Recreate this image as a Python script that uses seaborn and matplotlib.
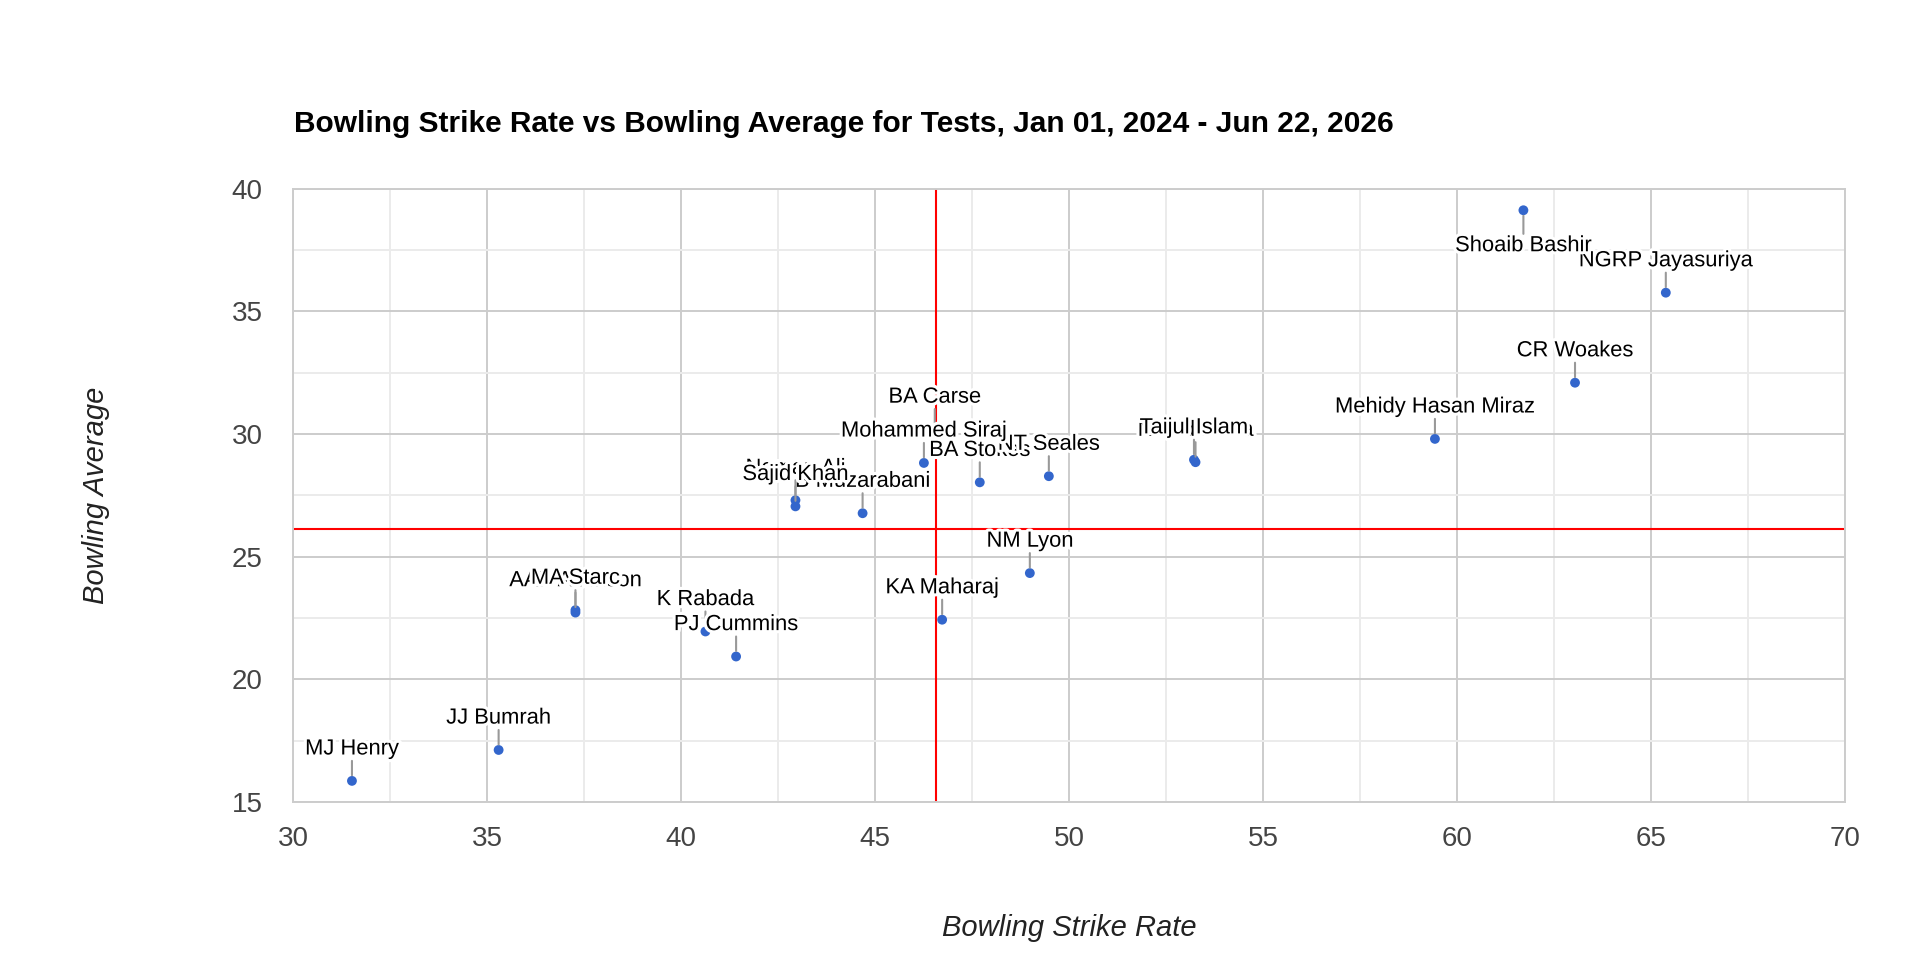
import numpy as np
import seaborn as sns
import matplotlib.pyplot as plt
import matplotlib.patheffects as pe

# bowlers in drawing order (later labels sit on top of earlier ones)
players = ["MJ Henry", "JJ Bumrah", "AAP Atkinson", "MA Starc", "K Rabada",
           "PJ Cummins", "B Muzarabani", "Noman Ali", "Sajid Khan", "BA Carse",
           "KA Maharaj", "BA Stokes", "NT Seales", "Mohammed Siraj", "NM Lyon",
           "Nahid Rana", "Taijul Islam", "Mehidy Hasan Miraz", "CR Woakes",
           "NGRP Jayasuriya", "Shoaib Bashir"]
strike_rate = [31.52, 35.30, 37.28, 37.28, 40.63,
               41.42, 44.68, 42.95, 42.95, 46.54,
               46.73, 47.70, 49.48, 46.26, 48.99,
               53.26, 53.22, 59.43, 63.04,
               65.38, 61.71]
bowling_avg = [15.86, 17.12, 22.72, 22.82, 21.95,
               20.93, 26.77, 27.30, 27.05, 30.20,
               22.43, 28.03, 28.28, 28.82, 24.33,
               28.85, 28.95, 29.80, 32.09,
               35.76, 39.12]

# red reference lines
sr_ref = 46.58
avg_ref = 26.14

x_ticks = [30, 35, 40, 45, 50, 55, 60, 65, 70]
y_ticks = [15, 20, 25, 30, 35, 40]

sns.set_style("white")
plt.rcParams['font.family'] = ['Liberation Sans', 'DejaVu Sans']

fig = plt.figure(figsize=(19.3, 9.76), dpi=100)
ax = fig.add_axes([0.1518, 0.1783, 0.8042, 0.6284])

sns.scatterplot(x=strike_rate, y=bowling_avg, color='#3366cc', s=50,
                edgecolor='none', linewidth=0, zorder=5, ax=ax)

ax.axvline(sr_ref, color='#ff0000', lw=1.5, zorder=2)
ax.axhline(avg_ref, color='#ff0000', lw=1.5, zorder=2)

# labels with leader lines, white halo round the glyphs
halo = [pe.withStroke(linewidth=4.5, foreground='white')]
below = {"Shoaib Bashir"}
for name, sx, av in zip(players, strike_rate, bowling_avg):
    if name in below:
        off, va = (0, -18), 'top'
    else:
        off, va = (0, 19), 'baseline'
    ax.annotate(name, xy=(sx, av), xytext=off, textcoords='offset points',
                ha='center', va=va, fontsize=15.8, color='#000000', zorder=6,
                path_effects=halo,
                bbox=dict(boxstyle='square,pad=0.0', fc='none', ec='none'),
                arrowprops=dict(arrowstyle='-', color='#999999', lw=1.5,
                                shrinkA=1, shrinkB=4))

ax.set_xlim(30, 70)
ax.set_ylim(15, 40)
ax.set_xticks(x_ticks)
ax.set_yticks(y_ticks)
ax.set_xticks(np.arange(30, 70.1, 2.5), minor=True)
ax.set_yticks(np.arange(15, 40.1, 2.5), minor=True)
ax.grid(which='major', color='#cccccc', lw=1.4, zorder=0)
ax.grid(which='minor', color='#ebebeb', lw=1.4, zorder=0)
ax.set_axisbelow(True)
ax.tick_params(which='both', length=0, labelsize=20, labelcolor='#444444')
ax.tick_params(axis='x', pad=17)
ax.tick_params(axis='y', pad=22)
for sp in ax.spines.values():
    sp.set_color('#cccccc')
    sp.set_linewidth(1.4)

ax.set_xlabel("Bowling Strike Rate", fontsize=21, style='italic', color='#222222')
ax.set_ylabel("Bowling Average", fontsize=21, style='italic', color='#222222')
ax.xaxis.set_label_coords(0.5, -0.2055)
ax.xaxis.label.set_va('center')
ax.yaxis.set_label_coords(-0.127, 0.5)
ax.yaxis.label.set_va('center')

fig.text(294 / 1930, 1 - 124 / 976,
         "Bowling Strike Rate vs Bowling Average for Tests, Jan 01, 2024 - Jun 22, 2026",
         fontsize=21.5, fontweight='bold', color='#000000', ha='left', va='center')

fig.savefig('out.png', dpi=100)
